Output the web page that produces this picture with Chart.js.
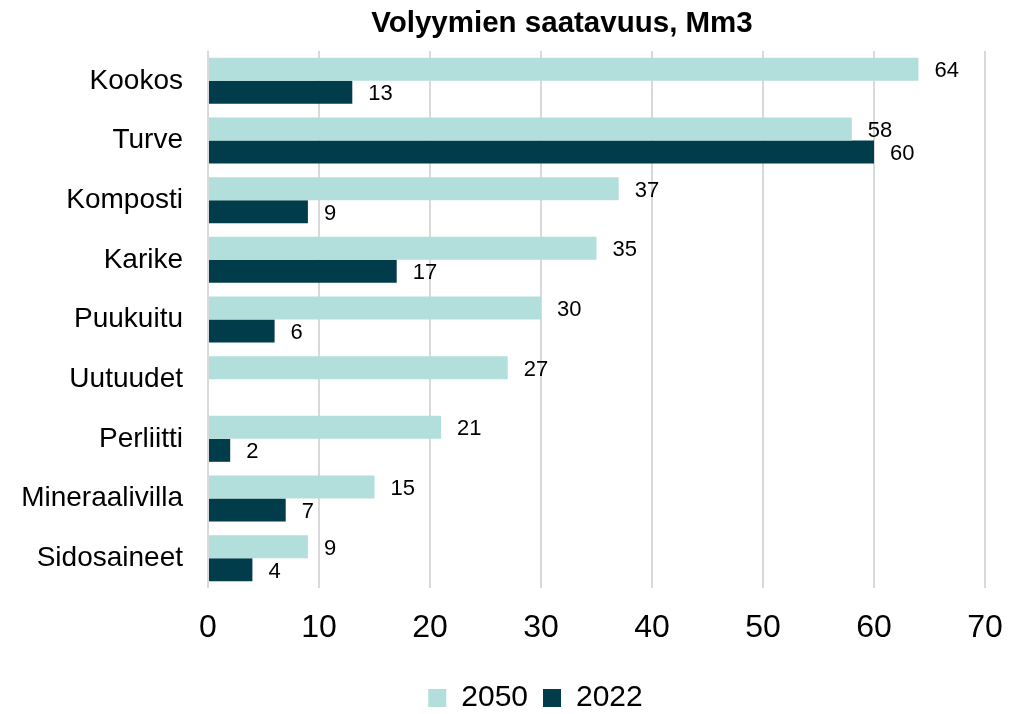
<!DOCTYPE html>
<html><head><meta charset="utf-8">
<script src="https://cdn.jsdelivr.net/npm/chart.js@4/dist/chart.umd.min.js"></script>
<style>html,body{margin:0;padding:0;background:#fff}#wrap{width:1025px;height:714px}</style>
</head><body><div id="wrap"><canvas id="c" width="1025" height="714"></canvas></div>
<script>
const categories = ["Kookos","Turve","Komposti","Karike","Puukuitu","Uutuudet","Perliitti","Mineraalivilla","Sidosaineet"];
const values2050 = [64,58,37,35,30,27,21,15,9];
const values2022 = [13,60,9,17,6,null,2,7,4];
const xTicks = [0,10,20,30,40,50,60,70];
const FONT = "'Liberation Sans', Arial, sans-serif";

const labelPlugin = {
  id: 'valLabels',
  afterDatasetsDraw(chart) {
    const ctx = chart.ctx;
    ctx.save();
    ctx.font = "22px " + FONT;
    ctx.fillStyle = "#000";
    ctx.textBaseline = "middle";
    ctx.textAlign = "left";
    chart.data.datasets.forEach((ds, di) => {
      const meta = chart.getDatasetMeta(di);
      meta.data.forEach((el, i) => {
        const v = ds.data[i];
        if (v === null || v === undefined) return;
        ctx.fillText(String(v), el.x + 16, el.y + 2);
      });
    });
    ctx.restore();
  }
};
const titlePlugin = {
  id: 'customTitle',
  afterDraw(chart) {
    const ctx = chart.ctx;
    ctx.save();
    ctx.font = "bold 29.5px " + FONT;
    ctx.fillStyle = "#000";
    ctx.textAlign = "center";
    ctx.textBaseline = "alphabetic";
    ctx.fillText("Volyymien saatavuus, Mm3", 562, 32);
    ctx.restore();
  }
};
const legendShift = {
  id: 'legendShift',
  afterLayout(chart) {
    const lg = chart.legend;
    if (lg) { lg.left += 43; lg.right += 43; }
  }
};

new Chart(document.getElementById('c'), {
  type: 'bar',
  data: {
    labels: categories,
    datasets: [
      {label: "2050", data: values2050, backgroundColor: "#b2dfdb", categoryPercentage: 0.77, barPercentage: 1.0},
      {label: "2022", data: values2022, backgroundColor: "#003c4a", categoryPercentage: 0.77, barPercentage: 1.0}
    ]
  },
  options: {
    indexAxis: 'y',
    responsive: false,
    animation: false,
    devicePixelRatio: 1,
    layout: {padding: {top: 51, left: 0, right: 40, bottom: 0}},
    plugins: {
      title: {display: false},
      tooltip: {enabled: false},
      legend: {
        display: true,
        position: 'bottom',
        maxHeight: 46,
        labels: {font: {family: FONT, size: 30}, color: "#000", boxWidth: 18, boxHeight: 18, padding: 15}
      }
    },
    scales: {
      x: {
        min: 0, max: 70,
        afterBuildTicks(s) { s.ticks = xTicks.map(v => ({value: v})); },
        ticks: {font: {family: FONT, size: 32}, color: "#000", padding: 21},
        grid: {color: "#d9d9d9", lineWidth: 2, drawTicks: false},
        border: {display: false},
        afterFit(s) { s.height = 80; }
      },
      y: {
        ticks: {font: {family: FONT, size: 28}, color: "#000", padding: 17},
        grid: {display: false},
        border: {display: false},
        afterFit(s) { s.width = 208; }
      }
    }
  },
  plugins: [labelPlugin, titlePlugin, legendShift]
});
</script></body></html>
